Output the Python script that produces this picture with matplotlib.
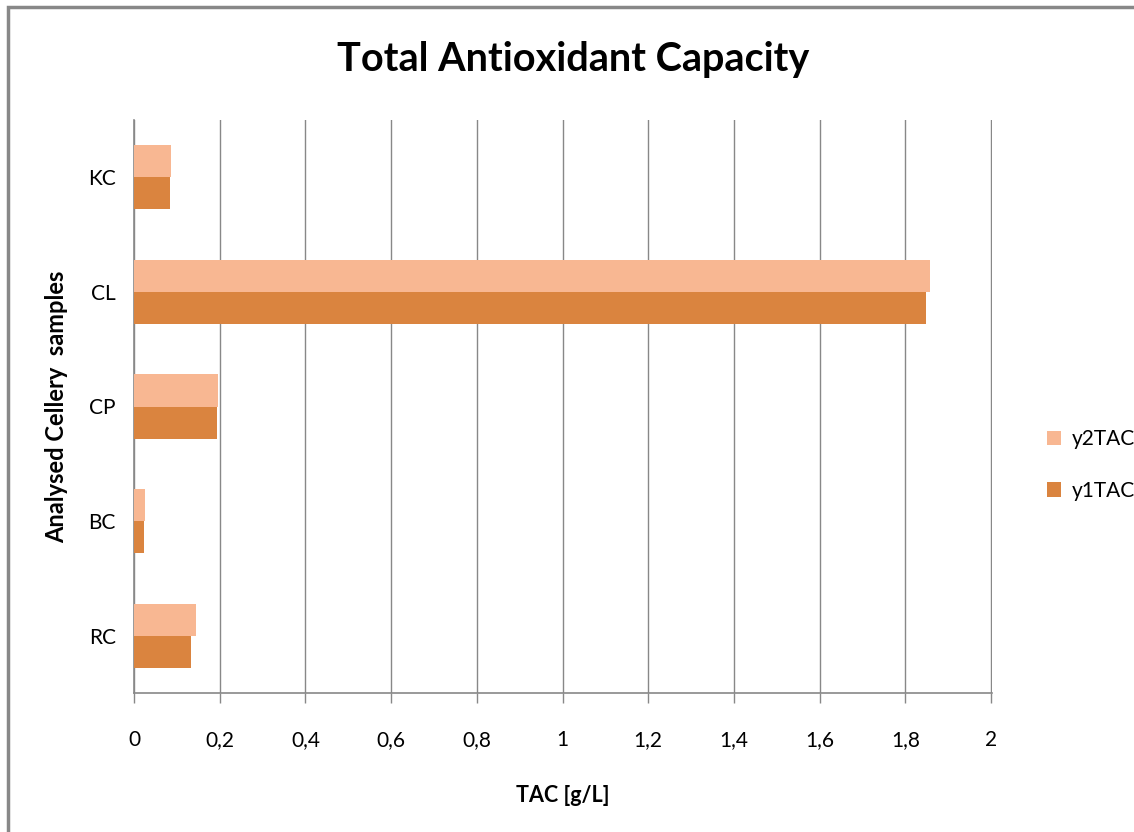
import matplotlib
matplotlib.use("Agg")
import matplotlib.pyplot as plt
import numpy as np
from matplotlib.patches import Rectangle

categories = ["RC", "BC", "CP", "CL", "KC"]
y1TAC = [0.132, 0.024, 0.194, 1.847, 0.083]
y2TAC = [0.145, 0.026, 0.197, 1.858, 0.086]
xticks = [0, 0.2, 0.4, 0.6, 0.8, 1.0, 1.2, 1.4, 1.6, 1.8, 2.0]
xticklabels = ["0", "0,2", "0,4", "0,6", "0,8", "1", "1,2", "1,4", "1,6", "1,8", "2"]

plt.rcParams['font.family'] = ['Lato', 'DejaVu Sans']

fig = plt.figure(figsize=(11.34, 8.32), dpi=100)
ax = fig.add_axes([134/1134, 1-693/832, (991.5-134)/1134, (693-120)/832])

c_light = "#F8B792"
c_dark = "#DA843F"
y = np.arange(len(categories))
h = 0.28
ax.barh(y - h/2, y1TAC, height=h, color=c_dark, label="y1TAC", zorder=3)
ax.barh(y + h/2, y2TAC, height=h, color=c_light, label="y2TAC", zorder=3)

ax.set_xlim(0, 2.001)
ax.set_ylim(-0.5, len(categories) - 0.5)
ax.set_yticks(y)
ax.set_yticklabels(categories, fontsize=15)
ax.set_xticks(xticks)
ax.set_xticklabels(xticklabels, fontsize=15)
ax.tick_params(axis='x', length=7, color="#888888", width=1, pad=20)
ax.tick_params(axis='y', length=0, pad=13)
ax.grid(axis='x', color="#888888", linewidth=1, zorder=0)
for s in ["top", "right"]:
    ax.spines[s].set_visible(False)
for s in ["left", "bottom"]:
    ax.spines[s].set_color("#888888")
    ax.spines[s].set_linewidth(1.2)

ax.set_xlabel("TAC [g/L]", fontsize=15.5, fontweight="bold", labelpad=25)
ax.set_ylabel("Analysed Cellery  samples", fontsize=17, fontweight="bold")
ax.yaxis.set_label_coords(-(134-68)/(991.5-134), 0.5)
fig.text(573/1134, 1-60/832, "Total Antioxidant Capacity", fontsize=28.5, fontweight="bold",
         ha="center", va="center")

handles, labels = ax.get_legend_handles_labels()
leg = fig.legend(handles[::-1], labels[::-1], loc="center left",
                 bbox_to_anchor=(1028/1134, 1-465/832), frameon=False, fontsize=15,
                 handlelength=0.7, handleheight=0.7, labelspacing=1.5, handletextpad=0.5)

fig.patches.append(Rectangle((8/1134, -0.1), 1.2, 1 - 7/832 + 0.1, transform=fig.transFigure,
                             fill=False, edgecolor="#888888", linewidth=2.5, figure=fig))

fig.savefig("out.png", dpi=100)
